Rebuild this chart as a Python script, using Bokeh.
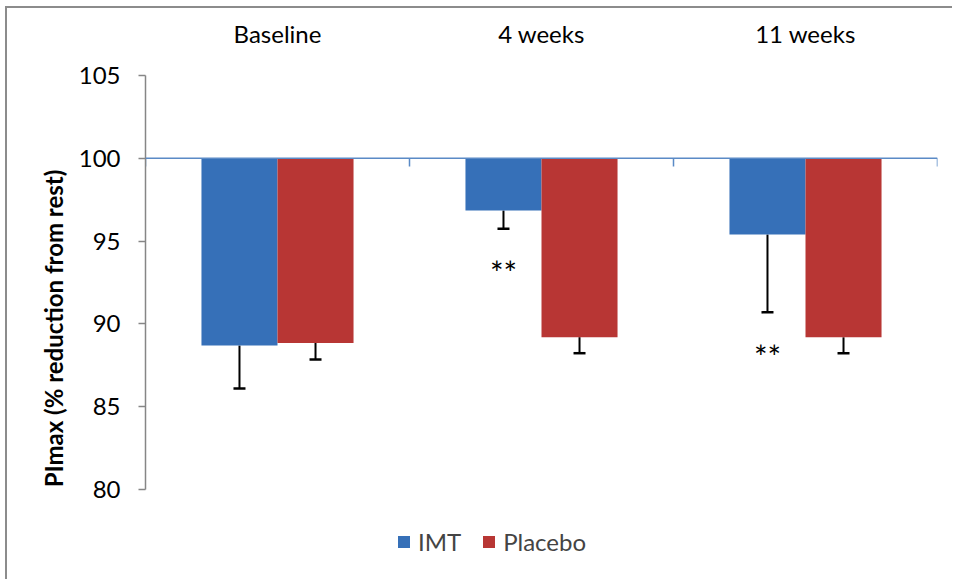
from bokeh.plotting import figure
from bokeh.models import (FactorRange, Range1d, Span, Whisker, TeeHead, Legend, LegendItem,
                          ColumnDataSource, SingleIntervalTicker)
from bokeh.transform import dodge
from bokeh.core.properties import value
from bokeh.embed import file_html
from bokeh.resources import INLINE

# ---- data ----
categories = ["Baseline", "4 weeks", "11 weeks"]
imt = [88.7, 96.85, 95.4]
imt_err = [2.6, 1.1, 4.7]
placebo = [88.85, 89.2, 89.2]
placebo_err = [1.0, 0.97, 0.97]
significant = ["", "**", "**"]
y_ticks_start, y_ticks_end, y_tick_step = 80, 105, 5
reference_level = 100

FONT = "Lato"
BLUE = "#3670B8"
RED = "#B83634"

# layout (pixels)
W, H = 947, 573
top_px = 67                 # frame top below figure top
axis_px = 414               # pixel length of the 80..105 axis
frame_h = H - top_px        # frame extends to bottom (legend lives inside)
y_low = y_ticks_end - frame_h * (y_ticks_end - y_ticks_start) / axis_px

p = figure(width=W, height=H, x_range=FactorRange(*categories, range_padding=0),
           y_range=Range1d(y_low, y_ticks_end), x_axis_location="above",
           output_backend="svg", toolbar_location=None,
           min_border_left=138, min_border_right=17, min_border_top=top_px, min_border_bottom=0)
p.styles = {"margin-left": "5px", "margin-top": "6px",
            "border-left": "2px solid #8c8c8c", "border-top": "2px solid #8c8c8c",
            "border-right": "none", "border-bottom": "none"}
p.outline_line_color = None
p.grid.visible = False
p.background_fill_color = "white"
p.border_fill_color = "white"

src = ColumnDataSource(dict(
    cat=categories, imt=imt, placebo=placebo,
    imt_low=[v - e for v, e in zip(imt, imt_err)],
    pl_low=[v - e for v, e in zip(placebo, placebo_err)],
    top=[reference_level] * len(categories),
    star=significant,
    star_y=[v - e - 2.65 for v, e in zip(imt, imt_err)],
))

bw = 0.288
r_imt = p.vbar(x=dodge("cat", -bw / 2, range=p.x_range), top="top", bottom="imt", width=bw,
               source=src, fill_color=BLUE, line_color=None)
r_pl = p.vbar(x=dodge("cat", bw / 2, range=p.x_range), top="top", bottom="placebo", width=bw,
              source=src, fill_color=RED, line_color=None)

for col_v, col_low, off in (("imt", "imt_low", -bw / 2), ("placebo", "pl_low", bw / 2)):
    w = Whisker(base=dodge("cat", off, range=p.x_range), upper=col_v, lower=col_low, source=src,
                line_color="black", line_width=2,
                upper_head=None,
                lower_head=TeeHead(size=12, line_color="black", line_width=2.5))
    p.add_layout(w)

# reference line at 100 (category axis crossing) with boundary tick marks
p.add_layout(Span(location=reference_level, dimension="width", line_color="#5A8AC6", line_width=1.5))
bounds = list(range(len(categories) + 1))
p.segment(x0=bounds, x1=bounds, y0=[reference_level] * len(bounds),
          y1=[reference_level - 0.5] * len(bounds), line_color="#5A8AC6", line_width=1.5)

p.text(x=dodge("cat", -bw / 2, range=p.x_range), y="star_y", text="star", source=src,
       text_font=value(FONT), text_font_size="32px", text_align="center",
       text_baseline="middle", text_color="black")

# axes
xa = p.xaxis[0]
xa.axis_line_color = None
xa.major_tick_line_color = None
xa.minor_tick_line_color = None
xa.major_label_text_font = FONT
xa.major_label_text_font_size = "24px"
xa.major_label_text_color = "black"
xa.major_label_standoff = 22

ya = p.yaxis[0]
ya.ticker = SingleIntervalTicker(interval=y_tick_step)
ya.bounds = (y_ticks_start, y_ticks_end)
ya.axis_line_color = "#868686"
ya.axis_line_width = 1.5
ya.major_tick_line_color = "#868686"
ya.major_tick_line_width = 1.5
ya.major_tick_out = 7
ya.major_tick_in = 0
ya.minor_tick_line_color = None
ya.major_label_text_font = FONT
ya.major_label_text_font_size = "24px"
ya.major_label_text_color = "black"
ya.major_label_standoff = 18
ya.axis_label = "PImax (% reduction from rest)"
ya.axis_label_text_font = FONT
ya.axis_label_text_font_size = "24px"
ya.axis_label_text_font_style = "bold"
ya.axis_label_text_color = "black"
ya.axis_label_standoff = 8

legend = Legend(items=[LegendItem(label="IMT", renderers=[r_imt]),
                       LegendItem(label="Placebo", renderers=[r_pl])],
                orientation="horizontal", location=(251, 25),
                label_text_font=FONT, label_text_font_size="24px",
                glyph_width=15, glyph_height=15, label_standoff=7, spacing=20,
                padding=0, margin=0, border_line_color=None, background_fill_alpha=0)
p.add_layout(legend, "center")

open("out.html", "w").write(file_html(p, INLINE))
